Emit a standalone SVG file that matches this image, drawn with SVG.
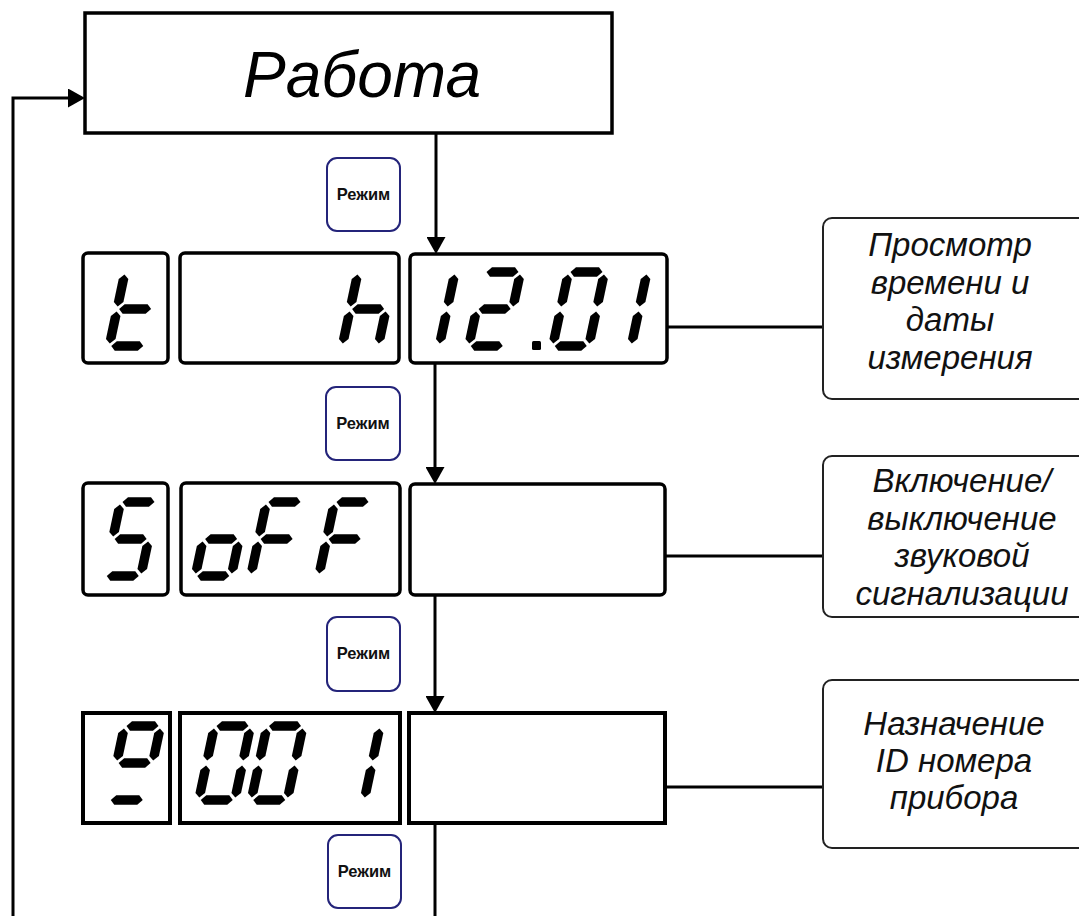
<svg xmlns="http://www.w3.org/2000/svg" xmlns:xlink="http://www.w3.org/1999/xlink" width="1079" height="916" viewBox="0 0 1079 916">
<style>
.frame{fill:#fff;stroke:#000;stroke-width:3.5}
.disp{fill:#fff;stroke:#000;stroke-width:3.5}
.disp-sq{fill:#fff;stroke:#000;stroke-width:4}
.btn{fill:#fff;stroke:#24247a;stroke-width:2}
.btxt{font-family:"Liberation Sans",Arial,sans-serif;font-weight:bold;font-size:16.5px;fill:#111;text-anchor:middle}
.lbl{fill:#fff;stroke:#222;stroke-width:2}
.ltxt{font-family:"Liberation Sans",Arial,sans-serif;font-style:italic;font-size:33px;fill:#111;text-anchor:middle}
.title{font-family:"Liberation Sans",Arial,sans-serif;font-style:italic;font-size:64px;fill:#000;text-anchor:middle}
.conn{fill:none;stroke:#000;stroke-width:3}
.seg{fill:#000}
</style>
<defs>
<marker id="arr" viewBox="0 0 17 19" refX="9" refY="9.5" markerWidth="17" markerHeight="19" markerUnits="userSpaceOnUse" orient="auto">
<path d="M0,0 L17,9.5 L0,19Z" fill="#000"/>
</marker>
<path id="sh" class="seg" d="M-16,0 L-11.5,-4.8 L11.5,-4.8 L16,0 L11.5,4.8 L-11.5,4.8Z"/>
<path id="sv" class="seg" d="M0,-16 L4.8,-11.5 L4.8,11.5 L0,16 L-4.8,11.5 L-4.8,-11.5Z"/>
<g id="sa"><use href="#sh" x="18" y="0"/></g>
<g id="sb"><use href="#sv" x="36" y="18.5"/></g>
<g id="sc"><use href="#sv" x="36" y="55.5"/></g>
<g id="sd"><use href="#sh" x="18" y="74"/></g>
<g id="se"><use href="#sv" x="0" y="55.5"/></g>
<g id="sf"><use href="#sv" x="0" y="18.5"/></g>
<g id="sg"><use href="#sh" x="18" y="37"/></g>
<g id="d0"><use href="#sa"/><use href="#sb"/><use href="#sc"/><use href="#sd"/><use href="#se"/><use href="#sf"/></g>
<g id="d1"><use href="#sb"/><use href="#sc"/></g>
<g id="d2"><use href="#sa"/><use href="#sb"/><use href="#sg"/><use href="#se"/><use href="#sd"/></g>
<g id="dt"><use href="#sf"/><use href="#se"/><use href="#sg"/><use href="#sd"/></g>
<g id="dh"><use href="#sf"/><use href="#se"/><use href="#sg"/><use href="#sc"/></g>
<g id="dS"><use href="#sa"/><use href="#sf"/><use href="#sg"/><use href="#sc"/><use href="#sd"/></g>
<g id="do"><use href="#sg"/><use href="#sc"/><use href="#sd"/><use href="#se"/></g>
<g id="dF"><use href="#sa"/><use href="#sf"/><use href="#sg"/><use href="#se"/></g>
<g id="dN"><use href="#sa"/><use href="#sb"/><use href="#sf"/><use href="#sg"/><use href="#sd"/></g>
</defs>
<rect width="1079" height="916" fill="#fff"/>

<g id="connectors">
<path class="conn" d="M436,133 V246" marker-end="url(#arr)"/>
<path class="conn" d="M435,363 V476" marker-end="url(#arr)"/>
<path class="conn" d="M435,595 V705" marker-end="url(#arr)"/>
<path class="conn" d="M435,823 V916"/>
<path class="conn" d="M13,916 V98 H77" marker-end="url(#arr)"/>
<path class="conn" d="M667,327 H823"/>
<path class="conn" d="M665,556 H823"/>
<path class="conn" d="M665,787 H823"/>
</g>

<g id="node-work">
<rect class="frame" x="85" y="13" width="527" height="120"/>
<text class="title" x="362" y="97">Работа</text>
</g>

<g id="btn-1"><rect class="btn" x="327" y="158" width="73" height="73" rx="10"/><text class="btxt" x="363.5" y="200">Режим</text></g>
<g id="btn-2"><rect class="btn" x="326" y="387" width="74" height="73" rx="10"/><text class="btxt" x="363" y="429">Режим</text></g>
<g id="btn-3"><rect class="btn" x="327" y="617" width="73" height="74" rx="10"/><text class="btxt" x="363.5" y="659">Режим</text></g>
<g id="btn-4"><rect class="btn" x="328" y="835" width="73" height="73" rx="10"/><text class="btxt" x="364.5" y="877">Режим</text></g>

<g id="row-1">
<rect class="disp" x="83" y="253" width="85" height="110" rx="5"/>
<rect class="disp" x="180" y="253" width="219" height="110" rx="5"/>
<rect class="disp" x="410" y="254" width="257" height="109" rx="5"/>
<use href="#dt" transform="translate(125,272) skewX(-12)"/>
<use href="#dh" transform="translate(358,272) skewX(-12)"/>
<use href="#d1" transform="translate(419,272) skewX(-12)"/>
<use href="#d2" transform="translate(484.5,272) skewX(-12)"/>
<rect class="seg" x="532" y="341" width="9" height="9" rx="1.5"/>
<use href="#d0" transform="translate(568.5,272) skewX(-12)"/>
<use href="#d1" transform="translate(611,272) skewX(-12)"/>
</g>

<g id="row-2">
<rect class="disp" x="83" y="483" width="85" height="112" rx="5"/>
<rect class="disp" x="181" y="483" width="219" height="112" rx="5"/>
<rect class="disp" x="410" y="484" width="255" height="111" rx="5"/>
<use href="#dS" transform="translate(120.5,502) skewX(-12)"/>
<use href="#do" transform="translate(211,502) skewX(-12)"/>
<use href="#dF" transform="translate(266.5,502) skewX(-12)"/>
<use href="#dF" transform="translate(334.5,502) skewX(-12)"/>
</g>

<g id="row-3">
<rect class="disp-sq" x="83" y="713" width="87" height="110"/>
<rect class="disp-sq" x="180" y="713" width="220" height="110"/>
<rect class="disp-sq" x="409" y="713" width="256" height="110"/>
<use href="#dN" transform="translate(124.5,726) skewX(-12)"/>
<use href="#d0" transform="translate(214.5,726) skewX(-12)"/>
<use href="#d0" transform="translate(267,726) skewX(-12)"/>
<use href="#d1" transform="translate(344,726) skewX(-12)"/>
</g>

<g id="label-1">
<rect class="lbl" x="823" y="218" width="270" height="181" rx="9"/>
<text class="ltxt" x="950" y="256">Просмотр</text>
<text class="ltxt" x="950" y="293.5">времени и</text>
<text class="ltxt" x="950" y="331">даты</text>
<text class="ltxt" x="950" y="368.5">измерения</text>
</g>

<g id="label-2">
<rect class="lbl" x="823" y="456" width="270" height="161" rx="9"/>
<text class="ltxt" x="962" y="492">Включение/</text>
<text class="ltxt" x="962" y="529.5">выключение</text>
<text class="ltxt" x="962" y="567">звуковой</text>
<text class="ltxt" x="962" y="604.5">сигнализации</text>
</g>

<g id="label-3">
<rect class="lbl" x="823" y="680" width="270" height="168" rx="9"/>
<text class="ltxt" x="954" y="735">Назначение</text>
<text class="ltxt" x="954" y="772">ID номера</text>
<text class="ltxt" x="954" y="809">прибора</text>
</g>
</svg>
